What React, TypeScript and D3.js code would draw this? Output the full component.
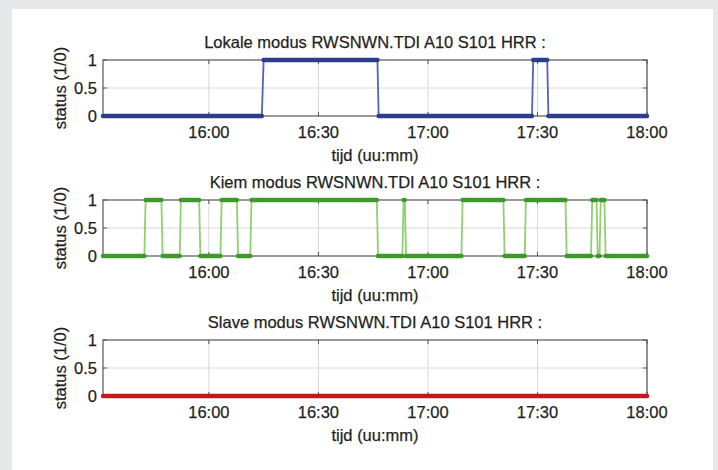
import React from 'react'
import * as d3 from 'd3'

// status data, time stamps on 2000-01-01
const lokaleTimes = ['15:31:00', '16:14:30', '16:15:00', '16:46:10', '16:46:30', '17:28:30', '17:28:50', '17:32:40', '17:33:00', '18:00:00']
const lokaleValues = [0, 0, 1, 1, 0, 0, 1, 1, 0, 0]

const kiemTimes = [
  '15:31:00', '15:42:20', '15:42:40', '15:47:00', '15:47:20', '15:52:00', '15:52:20', '15:57:20', '15:57:40',
  '16:03:10', '16:03:30', '16:07:40', '16:08:00', '16:11:20', '16:11:40', '16:46:00', '16:46:20',
  '16:53:00', '16:53:20', '16:53:40', '16:54:00', '17:09:10', '17:09:30', '17:20:40', '17:21:00',
  '17:26:30', '17:26:50', '17:37:40', '17:38:00', '17:44:40', '17:45:00', '17:46:10', '17:46:30',
  '17:47:00', '17:47:20', '17:48:20', '17:48:40', '18:00:00',
]
const kiemValues = [
  0, 0, 1, 1, 0, 0, 1, 1, 0,
  0, 1, 1, 0, 0, 1, 1, 0,
  0, 1, 1, 0, 0, 1, 1, 0,
  0, 1, 1, 0, 0, 1, 1, 0,
  0, 1, 1, 0, 0,
]

const slaveTimes = ['15:31:00', '18:00:00']
const slaveValues = [0, 0]

const yTicks = [0, 0.5, 1]
const xTickTimes = ['16:00', '16:30', '17:00', '17:30', '18:00']

const panels = [
  { title: 'Lokale modus RWSNWN.TDI A10 S101 HRR :', times: lokaleTimes, values: lokaleValues, thin: '#5462b8', thick: '#2f3c8e' },
  { title: 'Kiem modus RWSNWN.TDI A10 S101 HRR :', times: kiemTimes, values: kiemValues, thin: '#8fd06f', thick: '#3f982c' },
  { title: 'Slave modus RWSNWN.TDI A10 S101 HRR :', times: slaveTimes, values: slaveValues, thin: '#ef7a78', thick: '#c01a1c' },
]

const toDate = (s: string) => d3.timeParse('%Y-%m-%d %H:%M:%S')('2000-01-01 ' + (s.length === 5 ? s + ':00' : s)) as Date

const W = 718
const H = 470
const left = 103
const right = 647
const plotH = 56
const tops = [60, 200, 340]
const font = '"Liberation Sans", Arial, Helvetica, sans-serif'
const textColor = '#1f1f1f'
const fs = 16.5

const x = d3.scaleTime()
  .domain([toDate('15:31:00'), toDate('18:00:00')])
  .range([left, right])

const Panel = ({ p, top }: { p: typeof panels[0], top: number }) => {
  const y = d3.scaleLinear().domain([0, 1]).range([top + plotH, top])
  const pts: [Date, number][] = p.times.map((t, i) => [toDate(t), p.values[i]])
  const line = d3.line<[Date, number]>().x(d => x(d[0])).y(d => y(d[1]))
  const runs: [Date, number][][] = []
  for (let i = 1; i < pts.length; i++) {
    if (pts[i][1] === pts[i - 1][1]) runs.push([pts[i - 1], pts[i]])
  }
  const ticks = xTickTimes.map(toDate)
  const cx = (left + right) / 2
  const txt = { fontSize: fs, fill: textColor, fontFamily: font, stroke: textColor, strokeWidth: 0.25 }
  return (
    <g>
      <text x={cx} y={top - 12} textAnchor="middle" {...txt}>{p.title}</text>
      {ticks.map((t, i) => (
        <line key={'gx' + i} x1={x(t)} x2={x(t)} y1={top} y2={top + plotH} stroke="#d8d8d8" strokeWidth={1} />
      ))}
      <line x1={left} x2={right} y1={y(0.5)} y2={y(0.5)} stroke="#d8d8d8" strokeWidth={1} />
      <rect x={left} y={top} width={right - left} height={plotH} fill="none" stroke="#555" strokeWidth={1.2} />
      {ticks.map((t, i) => (
        <g key={'tx' + i}>
          <line x1={x(t)} x2={x(t)} y1={top + plotH} y2={top + plotH - 4} stroke="#555" />
          <line x1={x(t)} x2={x(t)} y1={top} y2={top + 4} stroke="#555" />
          <text x={x(t)} y={top + plotH + 22} textAnchor="middle" {...txt}>{d3.timeFormat('%H:%M')(t)}</text>
        </g>
      ))}
      {yTicks.map((v, i) => (
        <g key={'ty' + i}>
          <line x1={left} x2={left + 4} y1={y(v)} y2={y(v)} stroke="#555" />
          <line x1={right} x2={right - 4} y1={y(v)} y2={y(v)} stroke="#555" />
          <text x={left - 6} y={y(v) + 6} textAnchor="end" {...txt}>{v}</text>
        </g>
      ))}
      <text x={cx} y={top + plotH + 45} textAnchor="middle" {...txt}>tijd (uu:mm)</text>
      <text transform={`translate(${66},${top + plotH / 2}) rotate(-90)`} textAnchor="middle" {...txt}>status (1/0)</text>
      <path d={line(pts) ?? ''} fill="none" stroke={p.thin} strokeWidth={1.8} />
      {runs.map((r, i) => (
        <path key={'r' + i} d={line(r) ?? ''} fill="none" stroke={p.thick} strokeWidth={4.5} strokeLinecap="round" />
      ))}
    </g>
  )
}

const App = () => {
  return (
    <svg width={W} height={H} style={{ position: 'fixed', left: 0, top: 0 }}>
      <rect x={0} y={0} width={W} height={H} fill="#e6e7e9" />
      <rect x={12} y={9} width={701} height={H - 9} fill="#ffffff" />
      {panels.map((p, i) => <Panel key={i} p={p} top={tops[i]} />)}
    </svg>
  )
}

export default App
